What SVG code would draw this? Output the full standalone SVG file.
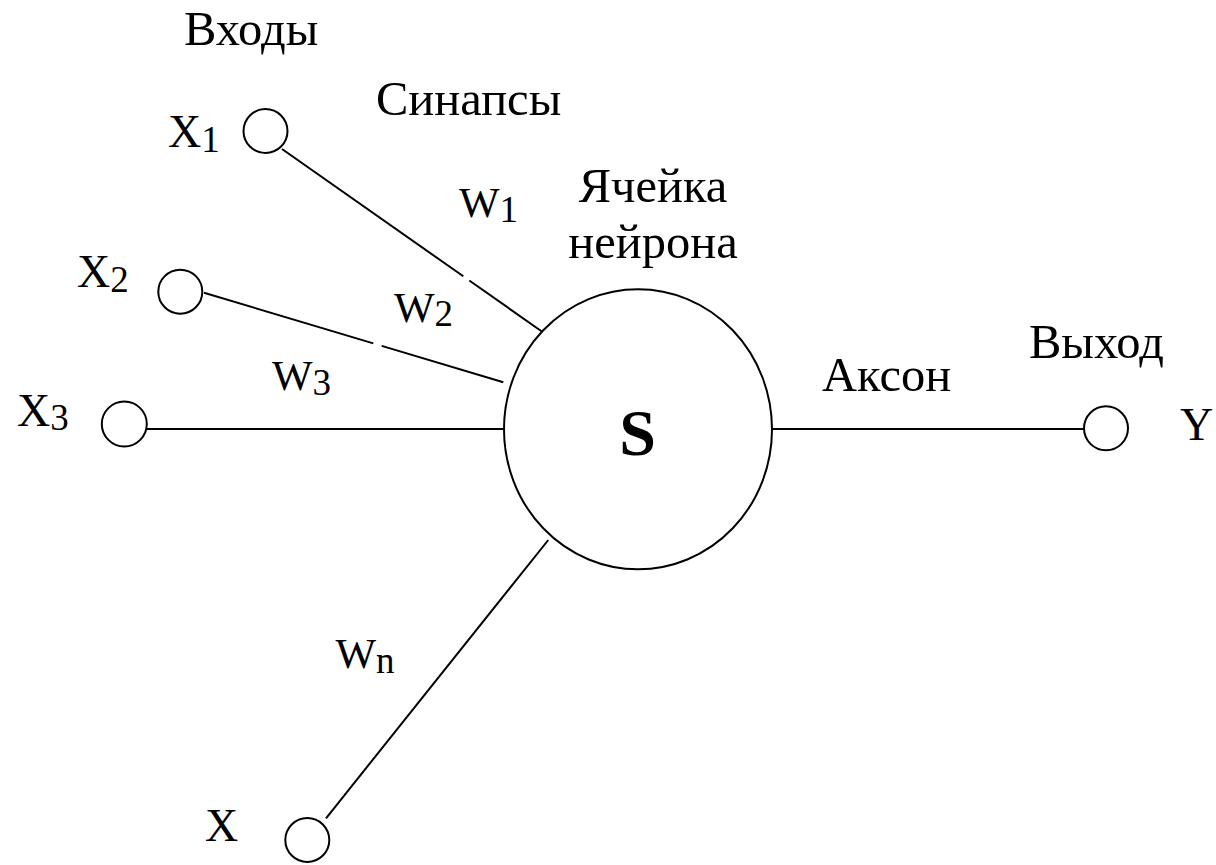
<svg xmlns="http://www.w3.org/2000/svg" width="1216" height="865" viewBox="0 0 1216 865">
<style>
.bg{fill:#fff}
.node{fill:#fff;stroke:#000;stroke-width:2}
.conn line{stroke:#000;stroke-width:2;stroke-linecap:butt}
text{font-family:"Liberation Serif","Times New Roman",serif;fill:#000}
.lbl{font-size:48.5px}
.var{font-size:46px}
.w{font-size:43px}
.sub{font-size:37px}
.s{font-size:66px;font-weight:bold}
</style>
<rect class="bg" x="0" y="0" width="1216" height="865"/>
<g id="connectors" class="conn">
<line x1="282" y1="149" x2="463.3" y2="276.3"/>
<line x1="469.3" y1="280.5" x2="548.3" y2="336"/>
<line x1="204" y1="292.7" x2="373.3" y2="343.4"/>
<line x1="381.7" y1="345.9" x2="503.3" y2="382.3"/>
<line x1="146.7" y1="429" x2="504" y2="429"/>
<line x1="326" y1="818.3" x2="548.3" y2="540"/>
<line x1="772" y1="429" x2="1084" y2="429"/>
</g>
<g id="neuron">
<ellipse class="node" cx="638" cy="429.3" rx="134" ry="140"/>
<text class="s" x="637.5" y="455" text-anchor="middle">S</text>
</g>
<g id="x1"><circle class="node" cx="265.5" cy="131" r="22"/><text class="var" x="168" y="146.7">X<tspan class="sub" dy="5">1</tspan></text></g>
<g id="x2"><circle class="node" cx="180.3" cy="291.7" r="22"/><text class="var" x="77" y="287.3">X<tspan class="sub" dy="4.5">2</tspan></text></g>
<g id="x3"><circle class="node" cx="124.3" cy="424" r="22.5"/><text class="var" x="17" y="426">X<tspan class="sub" dy="4">3</tspan></text></g>
<g id="xn"><circle class="node" cx="307.3" cy="840" r="22"/><text class="var" x="205" y="840.7">X</text></g>
<g id="y"><circle class="node" cx="1106" cy="428.3" r="22"/><text class="var" x="1180" y="440">Y</text></g>
<g id="labels">
<text class="lbl" x="184" y="45">Входы</text>
<text class="lbl" x="376" y="115">Синапсы</text>
<text class="lbl" x="653" y="201.7" text-anchor="middle">Ячейка</text>
<text class="lbl" x="653" y="258.3" text-anchor="middle">нейрона</text>
<text class="lbl" x="822" y="391">Аксон</text>
<text class="lbl" x="1029" y="358">Выход</text>
<text class="w" x="459" y="216.7">W<tspan class="sub" dy="5">1</tspan></text>
<text class="w" x="394" y="321.7">W<tspan class="sub" dy="4">2</tspan></text>
<text class="w" x="272" y="390">W<tspan class="sub" dy="5">3</tspan></text>
<text class="w" x="335.5" y="668.3">W<tspan class="sub" dy="4.5">n</tspan></text>
</g>
</svg>
